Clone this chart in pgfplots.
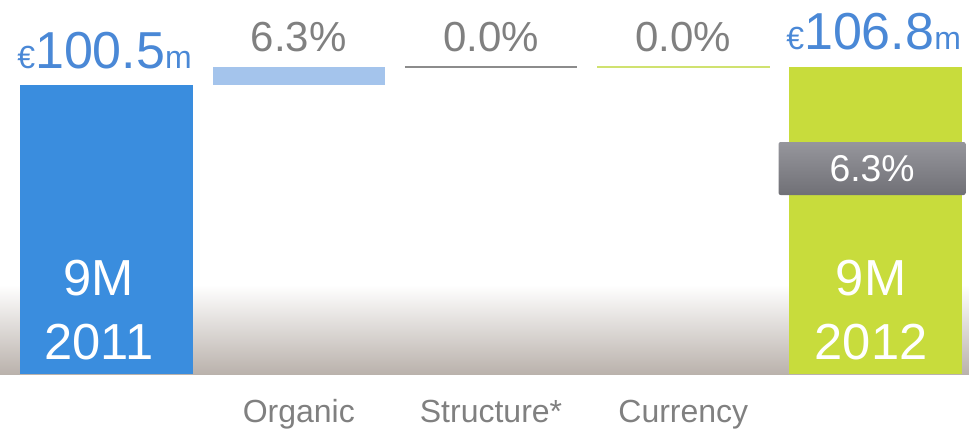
\documentclass[border=0pt]{standalone}
\usepackage{pgfplots}
\pgfplotsset{compat=1.18}
\usepackage{fontspec}
\setmainfont{Liberation Sans}
\definecolor{barblue}{RGB}{58,141,222}
\definecolor{eurblue}{RGB}{74,136,214}
\definecolor{orgblue}{RGB}{164,196,236}
\definecolor{txtgray}{RGB}{128,128,128}
\definecolor{linegray}{RGB}{140,140,140}
\definecolor{curgreen}{RGB}{208,226,112}
\definecolor{bargreen}{RGB}{200,220,60}
\definecolor{shbot}{RGB}{186,178,172}
\definecolor{shmid}{RGB}{233,230,227}
\definecolor{badgetop}{RGB}{150,150,156}
\definecolor{badgebot}{RGB}{112,112,118}
\begin{document}
\begin{tikzpicture}
\begin{axis}[
  name=ax,
  scale only axis, width=726.75pt, height=280.5pt,
  xmin=-0.554, xmax=4.486, ymin=0, ymax=130,
  axis line style={draw=none}, tick style={draw=none},
  ytick=\empty,
  xtick={1,2,3}, xticklabels={Organic,Structure*,Currency},
  xticklabel style={anchor=base, yshift=-36pt, text=txtgray, font=\fontsize{24}{24}\selectfont},
  clip=false,
]
% background shadow
\shade[top color=white, middle color=shmid, bottom color=shbot, draw=none]
  (axis cs:-0.554,0) rectangle (axis cs:4.486,31);
% end bars
\addplot[ybar, bar width=0.895, fill=barblue, draw=none] coordinates {(0,100.5)};
\addplot[ybar, bar width=0.9, fill=bargreen, draw=none] coordinates {(4,106.8)};
% organic floating bar
\addplot[fill=orgblue, draw=none] coordinates {(0.5515,100.5) (1.4485,100.5) (1.4485,106.8) (0.5515,106.8)} -- cycle;
% structure & currency (0.0%)
\addplot[linegray, line width=1.8pt] coordinates {(1.5515,106.8) (2.4485,106.8)};
\addplot[curgreen, line width=1.8pt] coordinates {(2.5515,106.8) (3.4485,106.8)};
% value labels
\node[anchor=base, text=eurblue, inner sep=0pt, yshift=12pt] at (axis cs:-0.01,100.5)
  {{\fontsize{24}{24}\selectfont €}{\fontsize{39}{39}\selectfont 100.5}{\fontsize{24}{24}\selectfont m}};
\node[anchor=base, text=txtgray, inner sep=0pt, yshift=11.1pt] at (axis cs:1,106.8)
  {\fontsize{31.5}{31.5}\selectfont 6.3\%};
\node[anchor=base, text=txtgray, inner sep=0pt, yshift=11.1pt] at (axis cs:2,106.8)
  {\fontsize{31.5}{31.5}\selectfont 0.0\%};
\node[anchor=base, text=txtgray, inner sep=0pt, yshift=11.1pt] at (axis cs:3,106.8)
  {\fontsize{31.5}{31.5}\selectfont 0.0\%};
\node[anchor=base, text=eurblue, inner sep=0pt, yshift=12.6pt] at (axis cs:3.99,106.8)
  {{\fontsize{24}{24}\selectfont €}{\fontsize{39}{39}\selectfont 106.8}{\fontsize{24}{24}\selectfont m}};
% bar inner labels
\node[anchor=base, text=white, inner sep=0pt] at (axis cs:-0.04,27.46) {\fontsize{38}{38}\selectfont 9M};
\node[anchor=base, text=white, inner sep=0pt] at (axis cs:-0.04,4.87) {\fontsize{38}{38}\selectfont 2011};
\node[anchor=base, text=white, inner sep=0pt] at (axis cs:3.977,27.46) {\fontsize{38}{38}\selectfont 9M};
\node[anchor=base, text=white, inner sep=0pt] at (axis cs:3.977,4.87) {\fontsize{38}{38}\selectfont 2012};
% badge
\node[top color=badgetop, bottom color=badgebot, rounded corners=1.5pt, minimum width=140.25pt, minimum height=39.75pt, inner sep=0pt, text=white]
  at (axis cs:3.982,71.43) {\fontsize{28}{28}\selectfont 6.3\%};
\end{axis}
\pgfresetboundingbox
\path[use as bounding box] (ax.south west) ++(0,-44.25pt) rectangle (ax.north east);
\end{tikzpicture}
\end{document}
